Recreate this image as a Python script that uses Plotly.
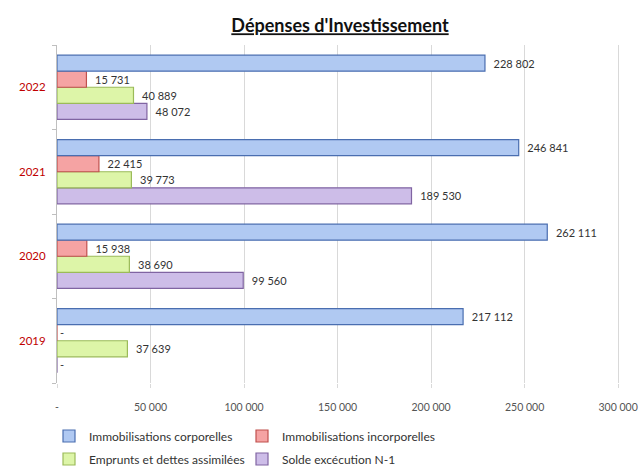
import plotly.graph_objects as go

years = ["2019", "2020", "2021", "2022"]
corporelles = [217112, 262111, 246841, 228802]
incorporelles = [0, 15938, 22415, 15731]
emprunts = [37639, 38690, 39773, 40889]
solde = [0, 99560, 189530, 48072]

series_names = ["Immobilisations corporelles", "Immobilisations incorporelles",
                "Emprunts et dettes assimilées", "Solde excécution N-1"]
x_tickvals = [0, 50000, 100000, 150000, 200000, 250000, 300000]
x_ticktext = ["-", "50 000", "100 000", "150 000", "200 000", "250 000", "300 000"]

fills = ["#b0c9f2", "#f5a3a3", "#ddf5a8", "#cdbde8"]
lines = ["#4a6eb0", "#c0504d", "#9bbb59", "#8064a2"]
legend_ids = ["legend", "legend", "legend2", "legend2"]


def fmt(v):
    return "-" if v == 0 else "  " + f"{v:,}".replace(",", " ")


data = [corporelles, incorporelles, emprunts, solde]
fig = go.Figure()
# add in reverse so that the first series is drawn on top within each group
for i in reversed(range(4)):
    fig.add_trace(go.Bar(
        y=years, x=data[i], orientation="h", name=series_names[i],
        marker=dict(color=fills[i], line=dict(color=lines[i], width=1.2)),
        text=[fmt(v) for v in data[i]], textposition="outside",
        textfont=dict(size=11, color="#333333"), cliponaxis=False,
        legend=legend_ids[i],
    ))

W, H = 641, 468
legend_common = dict(orientation="h", traceorder="reversed", xref="container",
                     yref="container", x=49 / W, xanchor="left", yanchor="middle",
                     entrywidth=148, entrywidthmode="pixels", bgcolor="rgba(0,0,0,0)",
                     font=dict(size=12, color="#333333"), itemwidth=30)

fig.update_layout(
    width=W, height=H,
    margin=dict(l=57, r=21, t=45, b=85),
    paper_bgcolor="white", plot_bgcolor="white",
    font=dict(family="Lato, Open Sans, sans-serif", color="#333333"),
    barmode="group", bargap=0.24, bargroupgap=0,
    title=dict(text="<b><u>Dépenses d'Investissement</u></b>", x=340 / W, xanchor="center",
               y=1 - 26 / H, yanchor="middle", font=dict(size=18, color="#111111")),
    xaxis=dict(range=[0, 301000], tickvals=x_tickvals, ticktext=x_ticktext,
               showgrid=True, gridcolor="#d9d9d9", gridwidth=1, zeroline=False,
               ticks="outside", ticklen=4, tickcolor="#d9d9d9", automargin=False,
               ticklabelstandoff=10, ticklabeloverflow="allow",
               tickfont=dict(size=10.5, color="#555555"), showline=False),
    yaxis=dict(categoryorder="array", categoryarray=years, automargin=False,
               tickfont=dict(size=11.5, color="#c00000"), showline=True,
               linecolor="#bfbfbf", ticks="outside", tickson="boundaries",
               ticklabelstandoff=8,
               ticklen=4, tickcolor="#bfbfbf", showgrid=False),
    legend=dict(legend_common, y=1 - 436 / H),
    legend2=dict(legend_common, y=1 - 459 / H),
)

fig.write_html("out.html", config={"displayModeBar": False},
               post_script="document.body.style.margin='0';document.body.style.overflow='hidden';")
